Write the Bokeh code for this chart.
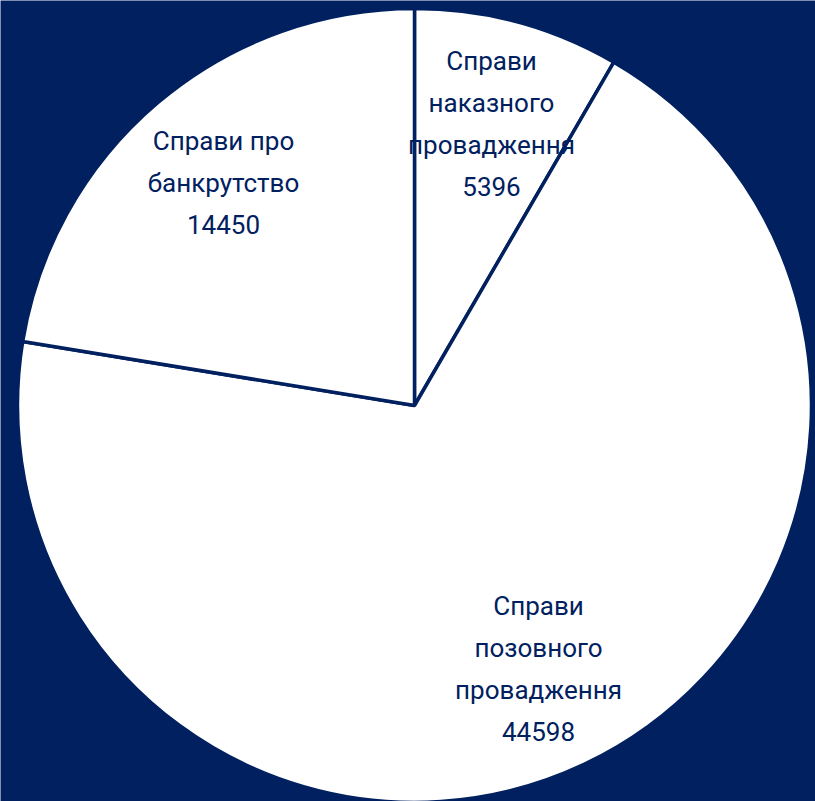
import math
from bokeh.plotting import figure
from bokeh.models import ColumnDataSource
from bokeh.core.properties import value
from bokeh.embed import file_html
from bokeh.resources import INLINE

# data
categories = ["Справи\nнаказного\nпровадження", "Справи\nпозовного\nпровадження", "Справи про\nбанкрутство"]
values = [5396, 44598, 14450]

NAVY = "#002060"
W, H = 815, 801
cx, cy, r = 414, 396, 397

total = sum(values)
starts, ends = [], []
acc = 0
for v in values:
    starts.append(math.pi / 2 - 2 * math.pi * acc / total)
    acc += v
    ends.append(math.pi / 2 - 2 * math.pi * acc / total)

src = ColumnDataSource(dict(start=starts, end=ends, cat=categories, val=values))

p = figure(width=W, height=H, x_range=(0, W), y_range=(0, H),
           output_backend="svg", toolbar_location=None, min_border=0,
           background_fill_color=NAVY, border_fill_color=NAVY, outline_line_color=None)
p.axis.visible = False
p.grid.visible = False

p.wedge(x=cx, y=cy, radius=r, start_angle="start", end_angle="end", direction="clock",
        fill_color="white", line_color=NAVY, line_width=3.5, source=src)

# label placement (pixels, figure coordinates; block centres)
lx = [491, 538, 223]
ly = [H - 123, H - 668, H - 182]
labels = [c + "\n" + str(v) for c, v in zip(categories, values)]
lsrc = ColumnDataSource(dict(x=lx, y=ly, t=labels))
p.text(x="x", y="y", text="t", source=lsrc, text_align="center", text_baseline="middle",
       text_font=value("Roboto"), text_font_size="26px",
       text_color=NAVY, text_line_height=1.4)

html = file_html(p, INLINE)
html = html.replace("<body>", '<body style="background:#002060">', 1)
open("out.html", "w").write(html)
